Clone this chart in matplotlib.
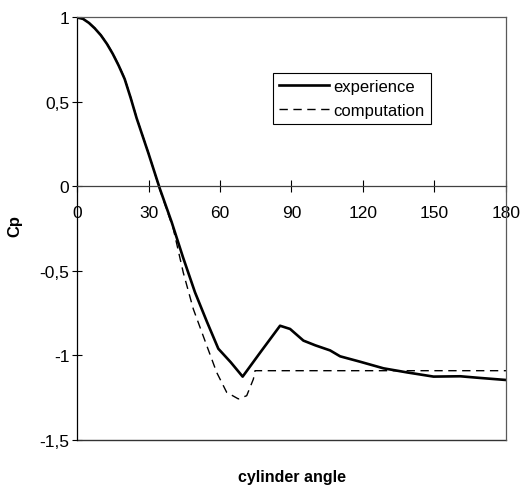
import matplotlib
matplotlib.use("Agg")
import matplotlib.pyplot as plt
from matplotlib.ticker import FuncFormatter

plt.rcParams['font.family'] = ['Liberation Sans', 'DejaVu Sans']

# experimental pressure coefficient
exp_angle = [0, 2.5, 5, 7.5, 10, 12.5, 15, 17.5, 20, 22.5, 25, 30, 34.8, 39.7,
             44.5, 49.5, 54.5, 59.3, 64.5, 69.5, 77, 85.2, 89.4, 95, 100, 106.2,
             110.4, 118.8, 128.6, 138.4, 149.6, 160.8, 169.2, 180]
exp_cp = [1.0, 0.992, 0.968, 0.935, 0.895, 0.845, 0.785, 0.715, 0.636, 0.525,
          0.405, 0.195, -0.015, -0.21, -0.42, -0.626, -0.80, -0.96, -1.04,
          -1.125, -0.98, -0.824, -0.843, -0.912, -0.94, -0.97, -1.005, -1.037,
          -1.076, -1.10, -1.125, -1.123, -1.133, -1.145]

# computed pressure coefficient
comp_angle = [0, 2.5, 5, 7.5, 10, 12.5, 15, 17.5, 20, 22.5, 25, 30, 34.8, 40.4,
              44.6, 48.8, 54.4, 58.6, 62.8, 67.7, 71.2, 74, 74.7, 90, 120, 150, 180]
comp_cp = [1.0, 0.993, 0.97, 0.937, 0.897, 0.848, 0.788, 0.718, 0.64, 0.528,
           0.408, 0.198, -0.02, -0.25, -0.51, -0.725, -0.94, -1.10, -1.218,
           -1.257, -1.238, -1.14, -1.09, -1.09, -1.09, -1.09, -1.09]

fig = plt.figure(figsize=(5.21, 4.89), dpi=100)
ax = fig.add_axes([0.1478, 0.0982, 0.8234, 0.864])

ax.plot(exp_angle, exp_cp, color='black', linewidth=1.9, label='experience')
ax.plot(comp_angle, comp_cp, color='black', linewidth=1.0, dashes=(6, 4),
        label='computation')

ax.set_xlim(0, 180)
ax.set_ylim(-1.5, 1)
ax.set_xticks([0, 30, 60, 90, 120, 150, 180])
ax.set_yticks([-1.5, -1, -0.5, 0, 0.5, 1])

fmt = FuncFormatter(lambda v, p: ('%g' % v).replace('.', ','))
ax.xaxis.set_major_formatter(fmt)
ax.yaxis.set_major_formatter(fmt)

ax.spines['bottom'].set_position(('data', 0))
ax.spines['bottom'].set_color('0.25')
ax.spines['top'].set_color('0.35')
ax.spines['right'].set_color('0.35')
for s in ax.spines.values():
    s.set_linewidth(0.9)
ax.plot([0, 180], [-1.5, -1.5], color='0.2', linewidth=1.0, clip_on=False)

ax.tick_params(axis='x', direction='inout', length=9, width=0.8, pad=9,
               labelsize=12.5)
ax.tick_params(axis='y', direction='inout', length=7, width=0.8, pad=2,
               labelsize=12.5)

fig.text(291.5 / 521, 1 - 478 / 489, 'cylinder angle', ha='center', va='center',
         fontsize=11.5, fontweight='bold')
fig.text(15 / 521, 1 - 226 / 489, 'Cp', ha='center', va='center', rotation=90,
         fontsize=12, fontweight='bold')

leg = ax.legend(loc='upper left', bbox_to_anchor=(272.7 / 521, 1 - 74 / 489),
                bbox_transform=fig.transFigure, borderaxespad=0, fontsize=12,
                handlelength=3, handletextpad=0.3, labelspacing=0.55,
                borderpad=0.35, fancybox=False, framealpha=1)
leg.get_frame().set_edgecolor('black')
leg.get_frame().set_linewidth(0.8)

fig.savefig('out.png', dpi=100)
